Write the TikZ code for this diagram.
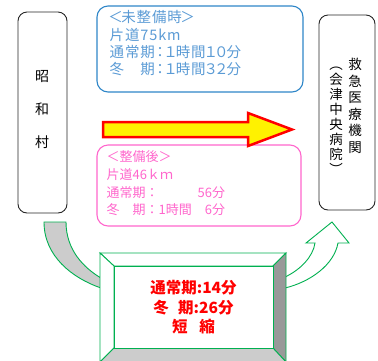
\documentclass[tikz,border=0pt]{standalone}
\usepackage{fontspec}
\newfontfamily\cjk{Noto Sans CJK JP}
\newfontfamily\cjkls[LetterSpace=6]{Noto Sans CJK JP}
\definecolor{bluebd}{RGB}{46,134,200}
\definecolor{bluetx}{RGB}{91,155,213}
\definecolor{pinkc}{RGB}{255,102,204}
\definecolor{grn}{RGB}{0,176,80}
\definecolor{ltgray}{RGB}{204,204,204}
\definecolor{dkgray}{RGB}{153,153,153}
\newcommand\fwd[1]{\makebox[0.72em]{#1}}
\newcommand\fwb[1]{\makebox[0.8em]{#1}}
\begin{document}
\begin{tikzpicture}[x=1pt,y=-1pt,
  placebox/.style={draw=black!85, line width=0.9pt, rounded corners=9pt},
  infobox/.style={line width=1.1pt, rounded corners=11pt},
  infotext/.style={anchor=north west, align=left, inner sep=0pt},
  vtext/.style={align=center, inner sep=0pt},
  grnline/.style={draw=grn, line width=0.9pt, line join=miter}
]
\useasboundingbox (0,0) rectangle (378,360);

% place boxes
\node[placebox, minimum width=49pt, minimum height=201pt] (showa) at (42.5,112.5) {};
\node[vtext, font=\cjk\fontsize{14}{33}\selectfont] (showatxt) at (42,110) {昭\\和\\村};

\node[placebox, minimum width=56pt, minimum height=195pt] (hosp) at (347,112.5) {};
\node[vtext, font=\cjk\fontsize{13.5}{16.5}\selectfont] (hosp1) at (355,106) {救\\急\\医\\療\\機\\関};
\node[vtext, font=\cjk\fontsize{13.5}{15}\selectfont] (hosp2) at (336,120.5) {︵\\会\\津\\中\\央\\病\\院\\︶};

% before box
\node[infobox, draw=bluebd, minimum width=206pt, minimum height=86pt] (before) at (200,49) {};
\node[infotext, text=bluetx, font=\cjkls\fontsize{14.5}{17.3}\selectfont] (beforetxt) at (109.5,10.5)
  {\fwb{＜}未整備時\fwb{＞}\\片道75km\\通常期\fwd{：}\fwd{１}時間\fwd{１}\fwd{０}分\\冬　期\fwd{：}\fwd{１}時間\fwd{３}\fwd{２}分};

% after box
\node[infobox, draw=pinkc, minimum width=204pt, minimum height=81pt] (after) at (199,185.5) {};
\node[infotext, text=pinkc, font=\cjk\fontsize{13}{17.7}\selectfont] (aftertxt) at (106.5,150.5)
  {＜整備後＞\\片道46ｋｍ\\通常期：　　　56分\\冬　期：1時間　6分};

% big arrow
\draw[draw=red, fill=yellow, line width=2.5pt, line join=miter]
  (103,122) -- (248,122) -- (248,113) -- (292,129.5) -- (248,146) -- (248,137) -- (103,137) -- cycle;

% left curved arrow (band)
\draw[grnline, fill=ltgray]
  (44,222) -- (66,222) .. controls (66,250) and (84,268) .. (101,278)
  -- (101,288) .. controls (72,278) and (44,256) .. (44,222) -- cycle;

% right curved arrow
\draw[grnline, fill=white]
  (285,277) .. controls (300,270) and (313,257) .. (315,243)
  -- (306,243) -- (332,222) -- (349,243) -- (338,243)
  .. controls (334,265) and (310,282) .. (285,288);

% bevelled box
\coordinate (oTL) at (100,253);
\coordinate (oTR) at (286,253);
\coordinate (oBR) at (286,362);
\coordinate (oBL) at (100,362);
\coordinate (iTL) at (114,266);
\coordinate (iTR) at (273,266);
\coordinate (iBR) at (273,348);
\coordinate (iBL) at (114,348);
\draw[grnline, fill=white] (oTL) -- (oTR) -- (iTR) -- (iTL) -- cycle;
\draw[grnline, fill=white] (oTL) -- (iTL) -- (iBL) -- (oBL) -- cycle;
\draw[grnline, fill=dkgray] (oTR) -- (oBR) -- (iBR) -- (iTR) -- cycle;
\draw[grnline, fill=ltgray] (iBL) -- (iBR) -- (oBR) -- (oBL) -- cycle;
\draw[grnline, fill=white] (iTL) rectangle (iBR);
\node[vtext, text=red, font=\cjk\bfseries\fontsize{15.5}{19.5}\selectfont] (gain) at (193.5,307.5)
  {通常期:14分\\冬\hspace{0.6em}期:26分\\短\hspace{0.75em}縮};
\end{tikzpicture}
\end{document}
